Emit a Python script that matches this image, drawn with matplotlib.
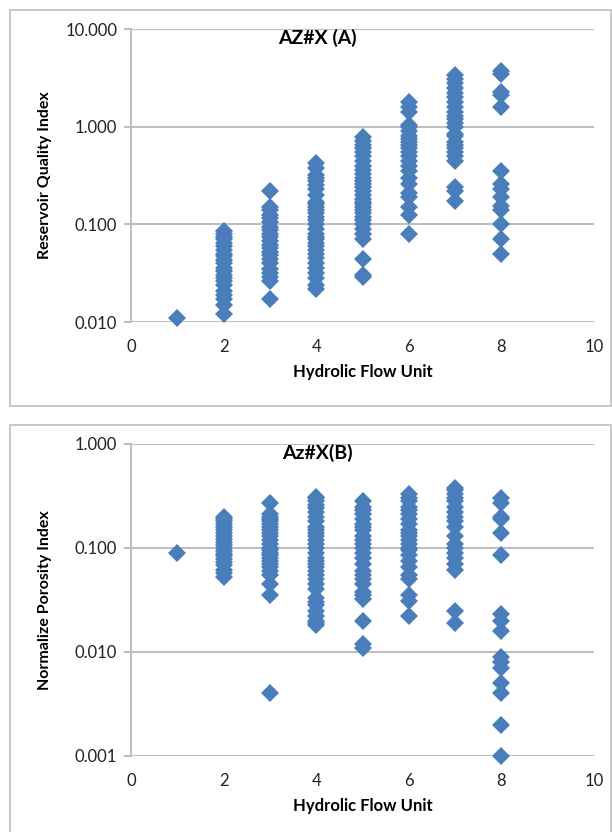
import matplotlib
matplotlib.use("Agg")
import matplotlib.pyplot as plt
from matplotlib.patches import Rectangle
from matplotlib.ticker import NullLocator, FormatStrFormatter

plt.rcParams['font.family'] = ['Lato', 'DejaVu Sans']

# hydraulic flow unit -> values
rqi = {
    1: [0.011],
    2: [0.012, 0.015, 0.017, 0.019, 0.021, 0.024, 0.026, 0.028, 0.030, 0.033, 0.036,
        0.040, 0.043, 0.047, 0.050, 0.055, 0.060, 0.065, 0.070, 0.075, 0.080, 0.085],
    3: [0.017, 0.026, 0.029, 0.032, 0.035, 0.040, 0.044, 0.048, 0.052, 0.057, 0.062,
        0.068, 0.075, 0.080, 0.088, 0.095, 0.105, 0.115, 0.125, 0.140, 0.150, 0.220],
    4: [0.022, 0.024, 0.028, 0.032, 0.036, 0.040, 0.045, 0.050, 0.055, 0.060, 0.065,
        0.070, 0.075, 0.080, 0.090, 0.100, 0.110, 0.120, 0.130, 0.140, 0.150, 0.160,
        0.170, 0.200, 0.230, 0.250, 0.280, 0.300, 0.320, 0.380, 0.420],
    5: [0.029, 0.030, 0.044, 0.070, 0.080, 0.090, 0.100, 0.110, 0.120, 0.130, 0.140,
        0.150, 0.160, 0.170, 0.180, 0.200, 0.220, 0.240, 0.260, 0.280, 0.300, 0.330,
        0.360, 0.400, 0.450, 0.500, 0.550, 0.600, 0.650, 0.720, 0.780],
    6: [0.080, 0.125, 0.150, 0.190, 0.210, 0.260, 0.300, 0.350, 0.400, 0.450, 0.500,
        0.550, 0.600, 0.650, 0.700, 0.750, 0.800, 0.900, 1.000, 1.050, 1.400, 1.600, 1.800],
    7: [0.175, 0.220, 0.240, 0.450, 0.500, 0.550, 0.600, 0.650, 0.700, 0.800, 0.850,
        1.000, 1.100, 1.200, 1.300, 1.400, 1.600, 1.800, 2.000, 2.200, 2.500, 2.800,
        3.100, 3.400],
    8: [0.050, 0.070, 0.100, 0.140, 0.155, 0.190, 0.230, 0.260, 0.350, 1.600, 2.100,
        2.250, 3.500, 3.700],
}

npi = {
    1: [0.090],
    2: [0.053, 0.057, 0.062, 0.068, 0.073, 0.078, 0.083, 0.088, 0.094, 0.100, 0.107,
        0.115, 0.122, 0.130, 0.140, 0.150, 0.160, 0.170, 0.180, 0.190, 0.200],
    3: [0.004, 0.035, 0.045, 0.055, 0.060, 0.065, 0.070, 0.075, 0.080, 0.085, 0.090,
        0.095, 0.100, 0.110, 0.120, 0.130, 0.140, 0.150, 0.160, 0.170, 0.180, 0.190,
        0.200, 0.210, 0.270],
    4: [0.018, 0.019, 0.020, 0.022, 0.025, 0.028, 0.030, 0.033, 0.040, 0.045, 0.050,
        0.055, 0.060, 0.065, 0.070, 0.075, 0.080, 0.090, 0.100, 0.110, 0.120, 0.130,
        0.140, 0.150, 0.160, 0.180, 0.200, 0.220, 0.240, 0.260, 0.280, 0.300, 0.310],
    5: [0.011, 0.012, 0.020, 0.032, 0.035, 0.038, 0.045, 0.050, 0.055, 0.060, 0.070,
        0.080, 0.090, 0.100, 0.110, 0.120, 0.130, 0.150, 0.160, 0.170, 0.190, 0.210,
        0.230, 0.250, 0.280],
    6: [0.022, 0.031, 0.035, 0.050, 0.055, 0.065, 0.075, 0.085, 0.095, 0.100, 0.110,
        0.120, 0.130, 0.140, 0.150, 0.170, 0.190, 0.210, 0.230, 0.250, 0.280, 0.300, 0.330],
    7: [0.019, 0.025, 0.062, 0.070, 0.080, 0.090, 0.100, 0.110, 0.130, 0.160, 0.180,
        0.200, 0.220, 0.250, 0.280, 0.300, 0.330, 0.360, 0.380],
    8: [0.001, 0.002, 0.004, 0.005, 0.007, 0.008, 0.009, 0.016, 0.020, 0.023, 0.085,
        0.140, 0.190, 0.200, 0.270, 0.300],
}

blue = '#4a7ebb'
grey = '#bfbfbf'
W, H = 612, 832


def panel(fig, rect_px, data, ylim, title, ylabel):
    left, top, right, bottom = rect_px
    ax = fig.add_axes([left / W, 1 - bottom / H, (right - left) / W, (bottom - top) / H])
    for hfu, vals in data.items():
        ax.plot([hfu] * len(vals), vals, 'D', color=blue, ms=9.5, mec=blue, mew=0,
                clip_on=False, zorder=3)
    ax.set_yscale('log')
    ax.set_ylim(*ylim)
    ax.set_xlim(0, 10)
    ax.set_xticks(range(0, 11, 2))
    ax.yaxis.set_minor_locator(NullLocator())
    ax.yaxis.set_major_formatter(FormatStrFormatter('%.3f'))
    ax.grid(axis='y', color=grey, lw=1.5)
    ax.set_axisbelow(True)
    for s in ['top', 'right', 'bottom']:
        ax.spines[s].set_visible(False)
    ax.spines['left'].set_color(grey)
    ax.spines['left'].set_linewidth(1.5)
    ax.tick_params(axis='x', length=0, pad=12, labelsize=12, colors='#222222')
    ax.tick_params(axis='y', length=5, width=1.5, color=grey, pad=5,
                   labelsize=12, labelcolor='#222222')
    ax.text((317 - left) / (right - left), 0.97, title, transform=ax.transAxes,
            ha='center', va='center', fontsize=14, fontweight='bold')
    fig.text(45 / W, 1 - (top + bottom) / 2 / H, ylabel, rotation=90, ha='center',
             va='center', fontsize=11.5, fontweight='bold')
    fig.text((left + right) / 2 / W, 1 - (bottom + 50) / H, 'Hydrolic Flow Unit',
             ha='center', va='center', fontsize=12, fontweight='bold')
    return ax


fig = plt.figure(figsize=(W / 100, H / 100), dpi=100)
fig.patches.append(Rectangle((10 / W, 1 - 406 / H), 601 / W, 396 / H,
                             transform=fig.transFigure, fill=False, ec=grey, lw=1.2))
fig.patches.append(Rectangle((10 / W, -0.01), 601 / W, 1 - 425 / H + 0.01,
                             transform=fig.transFigure, fill=False, ec=grey, lw=1.2))

panel(fig, (131, 29, 594, 322), rqi, (0.01, 10), 'AZ#X (A)', 'Reservoir Quality Index')
panel(fig, (131, 444, 594, 756), npi, (0.001, 1), 'Az#X(B)', 'Normalize Porosity Index')

fig.savefig('out.png', dpi=100)
